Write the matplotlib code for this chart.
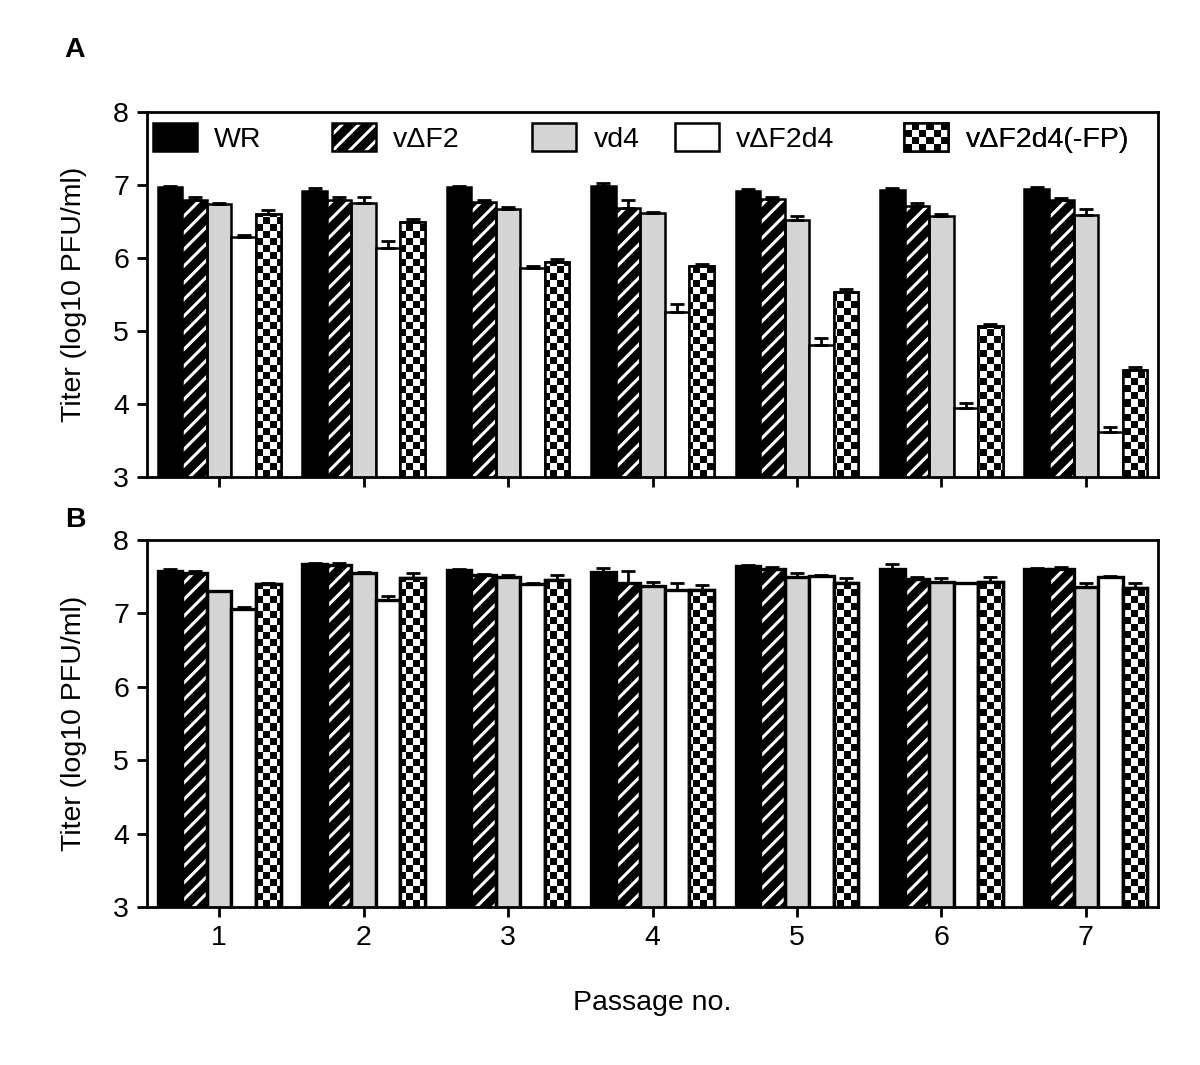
import numpy as np
import matplotlib
matplotlib.use("Agg")
import matplotlib.pyplot as plt
from matplotlib.patches import Rectangle
from matplotlib.legend_handler import HandlerBase, HandlerTuple

plt.rcParams["font.family"] = ["Liberation Sans", "DejaVu Sans"]
plt.rcParams["hatch.linewidth"] = 2.2

passages = [1, 2, 3, 4, 5, 6, 7]
series = ["WR", "v\u0394F2", "vd4", "v\u0394F2d4", "v\u0394F2d4(-FP)"]

# panel A: mean titer and upper error (log10 PFU/ml)
a_wr = [6.97, 6.92, 6.97, 6.98, 6.92, 6.93, 6.95]
a_wr_err = [0.02, 0.04, 0.02, 0.05, 0.03, 0.03, 0.02]
a_f2 = [6.79, 6.79, 6.77, 6.68, 6.81, 6.71, 6.79]
a_f2_err = [0.04, 0.05, 0.03, 0.11, 0.03, 0.05, 0.03]
a_d4 = [6.74, 6.76, 6.67, 6.62, 6.52, 6.57, 6.59]
a_d4_err = [0.01, 0.07, 0.03, 0.01, 0.05, 0.03, 0.08]
a_f2d4 = [6.29, 6.14, 5.86, 5.26, 4.81, 3.94, 3.62]
a_f2d4_err = [0.03, 0.09, 0.03, 0.11, 0.09, 0.07, 0.06]
a_fp = [6.61, 6.50, 5.95, 5.89, 5.53, 5.07, 4.46]
a_fp_err = [0.05, 0.03, 0.04, 0.03, 0.05, 0.02, 0.05]

# panel B
b_wr = [7.58, 7.67, 7.59, 7.57, 7.65, 7.61, 7.60]
b_wr_err = [0.02, 0.02, 0.01, 0.05, 0.01, 0.06, 0.02]
b_f2 = [7.55, 7.66, 7.52, 7.41, 7.60, 7.47, 7.61]
b_f2_err = [0.03, 0.02, 0.02, 0.17, 0.03, 0.02, 0.02]
b_d4 = [7.30, 7.55, 7.50, 7.37, 7.50, 7.43, 7.36]
b_d4_err = [0.01, 0.02, 0.02, 0.06, 0.05, 0.05, 0.05]
b_f2d4 = [7.06, 7.18, 7.40, 7.32, 7.51, 7.41, 7.50]
b_f2d4_err = [0.03, 0.05, 0.02, 0.10, 0.01, 0.01, 0.01]
b_fp = [7.40, 7.48, 7.45, 7.32, 7.42, 7.43, 7.35]
b_fp_err = [0.02, 0.07, 0.07, 0.07, 0.06, 0.06, 0.07]

GRAY = "#d4d4d4"
WIDTH = 0.17
YLIM = (3, 8)
XLIM = (0.5, 7.5)
FS = 20.5


def checker(nrows, ncols):
    return np.add.outer(np.arange(nrows), np.arange(ncols)) % 2


class HandlerChecker(HandlerBase):
    def create_artists(self, legend, orig_handle, xdescent, ydescent, width, height, fontsize, trans):
        ncols, nrows = 6, 4
        cw, ch = width / ncols, height / nrows
        arts = [Rectangle((-xdescent, -ydescent), width, height, facecolor="white",
                          edgecolor="none", transform=trans)]
        for i in range(nrows):
            for j in range(ncols):
                if (i + j) % 2 == 0:
                    arts.append(Rectangle((-xdescent + j * cw, -ydescent + i * ch), cw, ch,
                                          facecolor="black", edgecolor="none", transform=trans))
        arts.append(Rectangle((-xdescent, -ydescent), width, height, fill=False,
                              edgecolor="black", linewidth=1.8, transform=trans))
        return arts


def draw_panel(ax, means, errs, lw):
    x = np.array(passages, dtype=float)
    offsets = (np.arange(len(series)) - 2) * WIDTH
    for k, (m, e) in enumerate(zip(means, errs)):
        xs = x + offsets[k]
        if k == 0:
            ax.bar(xs, m, WIDTH, color="black", edgecolor="black", linewidth=lw, zorder=2)
        elif k == 1:
            ax.bar(xs, m, WIDTH, color="black", edgecolor="white", hatch="//", linewidth=0, zorder=2)
            ax.bar(xs, m, WIDTH, fill=False, edgecolor="black", linewidth=lw, zorder=2.2)
        elif k == 2:
            ax.bar(xs, m, WIDTH, color=GRAY, edgecolor="black", linewidth=lw, zorder=2)
        elif k == 3:
            ax.bar(xs, m, WIDTH, color="white", edgecolor="black", linewidth=lw, zorder=2)
        else:
            bars = ax.bar(xs, m, WIDTH, color="white", edgecolor="black", linewidth=lw, zorder=2)
            board = checker(52, 148)
            for patch in bars.patches:
                im = ax.imshow(board, cmap="binary", extent=(*XLIM, *YLIM), aspect="auto",
                               interpolation="nearest", origin="lower", zorder=2.1)
                im.set_clip_path(patch)
            ax.bar(xs, m, WIDTH, fill=False, edgecolor="black", linewidth=lw, zorder=2.2)
        ax.errorbar(xs, m, yerr=[np.zeros(len(e)), e], fmt="none", ecolor="black",
                    elinewidth=2, capsize=5, capthick=2, zorder=3)
    ax.set_xlim(*XLIM)
    ax.set_ylim(*YLIM)
    ax.set_xticks(passages)
    ax.set_yticks([3, 4, 5, 6, 7, 8])
    ax.tick_params(direction="out", length=7, width=2, labelsize=FS, pad=6)
    for sp in ax.spines.values():
        sp.set_linewidth(2)
    ax.set_ylabel("Titer (log10 PFU/ml)", fontsize=FS, labelpad=19)


fig = plt.figure(figsize=(12, 10.65), dpi=100)
ax_a = fig.add_axes([0.1225, 0.5521, 0.8425, 0.3427])
ax_b = fig.add_axes([0.1225, 0.1484, 0.8425, 0.3446])

draw_panel(ax_a, [a_wr, a_f2, a_d4, a_f2d4, a_fp],
           [a_wr_err, a_f2_err, a_d4_err, a_f2d4_err, a_fp_err], 1.8)
draw_panel(ax_b, [b_wr, b_f2, b_d4, b_f2d4, b_fp],
           [b_wr_err, b_f2_err, b_d4_err, b_f2d4_err, b_fp_err], 2.4)
ax_a.set_xticklabels([])
ax_b.set_xlabel("Passage no.", fontsize=FS, labelpad=28)

# legend, one entry at a time to keep the original spacing
handles = [
    Rectangle((0, 0), 1, 1, facecolor="black", edgecolor="black", linewidth=1.8),
    (Rectangle((0, 0), 1, 1, facecolor="black", edgecolor="white", hatch="//", linewidth=0),
     Rectangle((0, 0), 1, 1, fill=False, edgecolor="black", linewidth=1.8)),
    Rectangle((0, 0), 1, 1, facecolor=GRAY, edgecolor="black", linewidth=1.8),
    Rectangle((0, 0), 1, 1, facecolor="white", edgecolor="black", linewidth=1.8),
    Rectangle((0, 0), 1, 1, facecolor="white", edgecolor="black"),
]
legend_x = [0.006, 0.183, 0.381, 0.522, 0.749]
for k, (h, name) in enumerate(zip(handles, series)):
    hmap = {tuple: HandlerTuple(ndivide=1, pad=0)}
    if k == 4:
        hmap = {h: HandlerChecker()}
    leg = ax_a.legend([h], [name], loc="center left", bbox_to_anchor=(legend_x[k], 0.929),
                      frameon=False, fontsize=FS, handlelength=1.55, handleheight=1.15,
                      handletextpad=0.6, borderpad=0, borderaxespad=0, handler_map=hmap)
    ax_a.add_artist(leg)

fig.text(0.0625, 0.953, "A", fontsize=FS, fontweight="bold", ha="center", va="center")
fig.text(0.0625, 0.512, "B", fontsize=FS, fontweight="bold", ha="center", va="center")

fig.savefig("out.png", dpi=100)
